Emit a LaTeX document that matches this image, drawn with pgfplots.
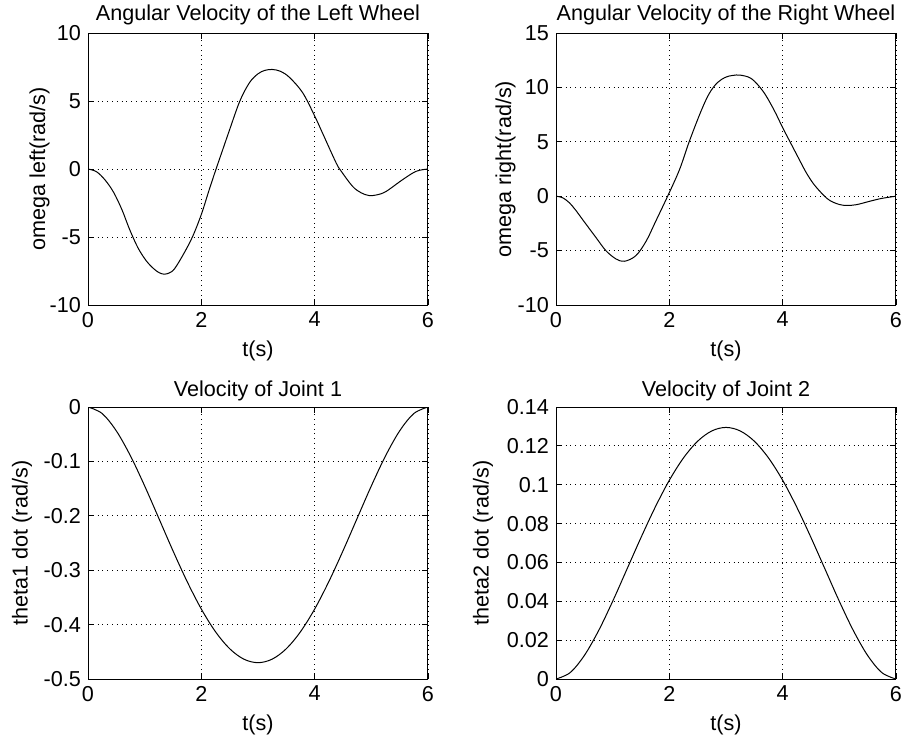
\documentclass[border=0pt]{standalone}
\usepackage{fontspec}
\setmainfont{Liberation Sans}
\usepackage{pgfplots}
\pgfplotsset{compat=1.18}
\begin{document}
\begin{tikzpicture}
\useasboundingbox (0pt,0pt) rectangle (453pt,-368pt);
\pgfplotsset{
  every axis/.append style={
    scale only axis, width=170pt, height=136pt,
    anchor=north west,
    xmin=0, xmax=6, xtick={0,2,4,6},
    grid=major, major grid style={dotted, black, line width=0.4pt},
    tick align=inside, tick pos=both,
    major tick length=3pt,
    axis line style={line width=0.5pt},
    every tick/.style={black, line width=0.4pt},
    font=\fontsize{10.8}{13}\selectfont,
    tick label style={font=\fontsize{10.8}{13}\selectfont},
    /pgf/number format/assume math mode=true,
    scaled y ticks=false,
    xlabel={t(s)},
  },
  curve/.style={black, line width=0.5pt, smooth, tension=0.55, mark=none},
}
% Top left
\begin{axis}[at={(44pt,-16.5pt)}, ymin=-10, ymax=10, ytick={-10,-5,0,5,10},
  yticklabels={-10,-5,0,5,10},
  title style={anchor=base, yshift=0.3pt},
  ylabel style={yshift=-6.85pt},
  ylabel={omega left(rad/s)}, title={Angular Velocity of the Left Wheel}]
\addplot[curve] coordinates {
(0,0) (0.15,-0.2) (0.3,-0.8) (0.45,-1.7) (0.6,-3.0) (0.73,-4.4) (0.88,-5.78) (1.03,-6.76)
(1.17,-7.37) (1.26,-7.63) (1.34,-7.73) (1.43,-7.65) (1.53,-7.32) (1.70,-6.15) (1.85,-4.93) (2.0,-3.34)
(2.14,-1.51) (2.26,0) (2.38,1.45) (2.5,2.9) (2.68,5.0) (2.85,6.35) (3.0,7.0) (3.12,7.25)
(3.25,7.32) (3.4,7.18) (3.56,6.72) (3.79,5.6) (4.0,3.9) (4.15,2.54) (4.38,0.44) (4.47,-0.17)
(4.67,-1.28) (4.82,-1.75) (4.96,-1.95) (5.1,-1.9) (5.26,-1.65) (5.55,-0.79) (5.79,-0.17) (6,0)
};
\end{axis}
% Top right
\begin{axis}[at={(278pt,-16.5pt)}, ymin=-10, ymax=15, ytick={-10,-5,0,5,10,15},
  yticklabels={-10,-5,0,5,10,15},
  title style={anchor=base, yshift=0.3pt},
  ylabel style={yshift=-5.75pt},
  ylabel={omega right(rad/s)}, title={Angular Velocity of the Right Wheel}]
\addplot[curve] coordinates {
(0,0) (0.12,-0.15) (0.235,-0.6) (0.35,-1.3) (0.47,-2.15) (0.71,-3.83) (0.88,-5.0) (1.06,-5.77) (1.21,-5.98)
(1.41,-5.46) (1.59,-4.14) (1.76,-2.3) (1.97,0) (2.18,2.45) (2.35,5.0) (2.55,7.7)
(2.7,9.4) (2.85,10.45) (3.0,10.95) (3.12,11.1) (3.25,11.13) (3.45,10.8) (3.66,9.6) (3.85,7.9)
(4.0,6.3) (4.13,5.0) (4.3,3.3) (4.42,2.13) (4.55,1.1) (4.72,0.1) (4.84,-0.42)
(5.0,-0.76) (5.13,-0.85) (5.3,-0.78) (5.54,-0.46) (5.75,-0.2) (6,0)
};
\end{axis}
% Bottom left
\begin{axis}[at={(44pt,-203.5pt)}, ymin=-0.5, ymax=0, ytick={-0.5,-0.4,-0.3,-0.2,-0.1,0},
  yticklabels={-0.5,-0.4,-0.3,-0.2,-0.1,0},
  title style={anchor=base, yshift=-0.7pt},
  ylabel style={yshift=-1pt},
  ylabel={theta1 dot (rad/s)}, title={Velocity of Joint 1}]
\addplot[curve] coordinates {
(0,0) (0.25,-0.0120) (0.5,-0.0439) (0.75,-0.0900) (1.0,-0.1451) (1.25,-0.2046)
(1.5,-0.2644) (1.75,-0.3210) (2.0,-0.3714) (2.25,-0.4131) (2.5,-0.4443) (2.75,-0.4635)
(3.0,-0.47) (3.25,-0.4635) (3.5,-0.4443) (3.75,-0.4131) (4.0,-0.3714) (4.25,-0.3210)
(4.5,-0.2644) (4.75,-0.2046) (5.0,-0.1451) (5.25,-0.0900) (5.5,-0.0439) (5.75,-0.0120) (6,0)
};
\end{axis}
% Bottom right
\begin{axis}[at={(278pt,-203.5pt)}, ymin=0, ymax=0.14, ytick={0,0.02,0.04,0.06,0.08,0.1,0.12,0.14},
  yticklabels={0,0.02,0.04,0.06,0.08,0.1,0.12,0.14},
  title style={anchor=base, yshift=-0.7pt},
  ylabel={theta2 dot (rad/s)}, title={Velocity of Joint 2}]
\addplot[curve] coordinates {
(0,0) (0.25,0.0033) (0.5,0.0121) (0.75,0.0248) (1.0,0.0400) (1.25,0.0564)
(1.5,0.0728) (1.75,0.0884) (2.0,0.1023) (2.25,0.1138) (2.5,0.1224) (2.75,0.1277)
(3.0,0.1295) (3.25,0.1277) (3.5,0.1224) (3.75,0.1138) (4.0,0.1023) (4.25,0.0884)
(4.5,0.0728) (4.75,0.0564) (5.0,0.0400) (5.25,0.0248) (5.5,0.0121) (5.75,0.0033) (6,0)
};
\end{axis}
\end{tikzpicture}
\end{document}
